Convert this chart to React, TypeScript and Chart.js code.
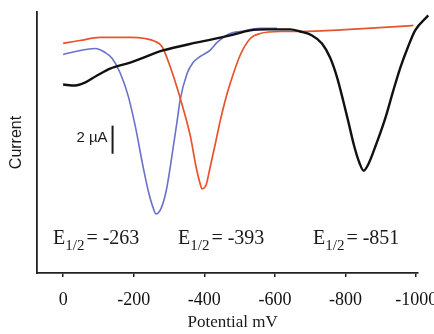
import React, { useEffect, useRef } from 'react';
import { Chart, registerables } from 'chart.js';

Chart.register(...registerables);

// Potential axis ticks (mV)
const potentialTicks = [0, -200, -400, -600, -800, -1000];
// Half-wave potentials (mV)
const halfWaveLabels = ['-263', '-393', '-851'];

// Blue trace (potential mV, current µA offset)
const blueX = [0, -48, -91, -119, -139, -161, -184, -204, -227, -241, -255, -263, -278, -292, -303, -323, -331, -351, -368, -388, -416, -436, -473, -501, -558, -606];
const blueY = [15.57, 15.86, 16.0, 15.71, 15.29, 14.29, 12.64, 10.5, 7.5, 5.86, 4.64, 4.21, 4.64, 5.86, 7.5, 10.86, 12.29, 14.21, 15.0, 15.43, 15.86, 16.43, 17.07, 17.21, 17.43, 17.43];

// Red trace
const redX = [0, -48, -105, -190, -232, -261, -280, -303, -331, -360, -377, -388, -393, -405, -416, -431, -445, -459, -473, -501, -530, -558, -615, -671, -813, -955, -992];
const redY = [16.36, 16.57, 16.79, 16.79, 16.71, 16.5, 16.14, 14.71, 12.5, 9.79, 7.5, 6.36, 6.0, 6.29, 7.5, 9.21, 10.86, 12.29, 13.5, 15.5, 16.71, 17.07, 17.21, 17.21, 17.36, 17.57, 17.64];

// Black trace
const blackX = [0, -34, -62, -96, -133, -190, -283, -380, -473, -530, -578, -643, -671, -705, -733, -756, -776, -793, -807, -824, -839, -851, -865, -882, -912, -935, -955, -975, -997, -1034];
const blackY = [13.43, 13.36, 13.57, 14.07, 14.57, 15.0, 15.86, 16.43, 16.93, 17.29, 17.36, 17.36, 17.21, 16.93, 16.36, 15.36, 13.93, 12.29, 10.86, 9.07, 7.86, 7.29, 7.79, 8.86, 11.0, 13.0, 14.64, 16.0, 17.29, 18.36];

// Scale bar: 2 µA
const scaleBarPotential = -140;
const scaleBarTop = 10.5;
const scaleBarSpan = 2;

const toPoints = (xs: number[], ys: number[]) => xs.map((x, i) => ({ x, y: ys[i] }));

const SERIF = '"Liberation Serif", "DejaVu Serif", serif';
const SANS = '"Liberation Sans", Arial, sans-serif';

const textPlugin = {
  id: 'texts',
  afterDraw(chart: any) {
    const ctx = chart.ctx;
    const xs = chart.scales.x;
    const ys = chart.scales.y;
    const area = chart.chartArea;
    ctx.save();
    ctx.fillStyle = '#1a1a1a';

    // Y axis title
    ctx.save();
    ctx.translate(17, (area.top + area.bottom) / 2);
    ctx.rotate(-Math.PI / 2);
    ctx.font = `16px ${SANS}`;
    ctx.textAlign = 'center';
    ctx.textBaseline = 'middle';
    ctx.fillText('Current', 0, 0);
    ctx.restore();

    // X axis title
    ctx.font = `17px ${SERIF}`;
    ctx.textAlign = 'center';
    ctx.textBaseline = 'middle';
    ctx.fillText('Potential mV', xs.getPixelForValue(-480), 323);

    // scale bar
    const bx = xs.getPixelForValue(scaleBarPotential);
    const by1 = ys.getPixelForValue(scaleBarTop);
    const by2 = ys.getPixelForValue(scaleBarTop - scaleBarSpan);
    ctx.strokeStyle = '#1a1a1a';
    ctx.lineWidth = 2;
    ctx.beginPath();
    ctx.moveTo(bx, by1);
    ctx.lineTo(bx, by2);
    ctx.stroke();
    ctx.font = `15px ${SANS}`;
    ctx.textAlign = 'right';
    ctx.textBaseline = 'middle';
    ctx.fillText('2 \u00b5A', bx - 5, (by1 + by2) / 2 - 2);

    // E1/2 labels
    const lefts = [53, 178, 313];
    const base = 244;
    halfWaveLabels.forEach((val, i) => {
      let x = lefts[i];
      ctx.textAlign = 'left';
      ctx.textBaseline = 'alphabetic';
      ctx.font = `20px ${SERIF}`;
      ctx.fillText('E', x, base);
      x += ctx.measureText('E').width;
      ctx.font = `15px ${SERIF}`;
      ctx.fillText('1/2', x, base + 6);
      x += ctx.measureText('1/2').width + 2;
      ctx.font = `20px ${SERIF}`;
      ctx.fillText('= ' + val, x, base);
    });
    ctx.restore();
  },
};

export default function App() {
  const ref = useRef<HTMLCanvasElement | null>(null);
  useEffect(() => {
    if (!ref.current) return;
    const chart = new Chart(ref.current, {
      type: 'line',
      data: {
        datasets: [
          {
            label: 'black',
            data: toPoints(blackX, blackY),
            borderColor: '#111111',
            borderWidth: 2.4,
            pointRadius: 0,
            cubicInterpolationMode: 'monotone',
            clip: false as any,
          },
          {
            label: 'red',
            data: toPoints(redX, redY),
            borderColor: '#e8532c',
            borderWidth: 1.7,
            pointRadius: 0,
            cubicInterpolationMode: 'monotone',
          },
          {
            label: 'blue',
            data: toPoints(blueX, blueY),
            borderColor: '#6a72c8',
            borderWidth: 1.6,
            pointRadius: 0,
            cubicInterpolationMode: 'monotone',
          },
        ],
      },
      options: {
        animation: false,
        responsive: false,
        layout: { padding: { left: 37, top: 12, right: 42, bottom: 11.4 } },
        plugins: { legend: { display: false }, tooltip: { enabled: false } },
        scales: {
          x: {
            type: 'linear',
            reverse: true,
            min: -1005,
            max: 74,
            afterBuildTicks: (scale: any) => {
              scale.ticks = potentialTicks.map((v) => ({ value: v }));
            },
            ticks: {
              autoSkip: false,
              maxRotation: 0,
              padding: 12,
              color: '#111',
              font: { family: SERIF, size: 18 },
              callback: (v: any) => String(v),
            },
            grid: { display: true, drawOnChartArea: false, drawTicks: true, tickLength: 4, color: '#222', lineWidth: 1.5 },
            border: { display: true, color: '#222', width: 1.8 },
          },
          y: {
            type: 'linear',
            min: 0,
            max: 18.6,
            ticks: { display: false },
            grid: { display: false, drawTicks: false },
            border: { display: true, color: '#222', width: 1.8 },
          },
        },
      },
      plugins: [textPlugin],
    });
    return () => chart.destroy();
  }, []);
  return (
    <div style={{ position: 'fixed', left: 0, top: 0, width: 434, height: 334, overflow: 'hidden', background: '#fff' }}>
      <canvas ref={ref} width={460} height={334} style={{ display: 'block' }} />
    </div>
  );
}
